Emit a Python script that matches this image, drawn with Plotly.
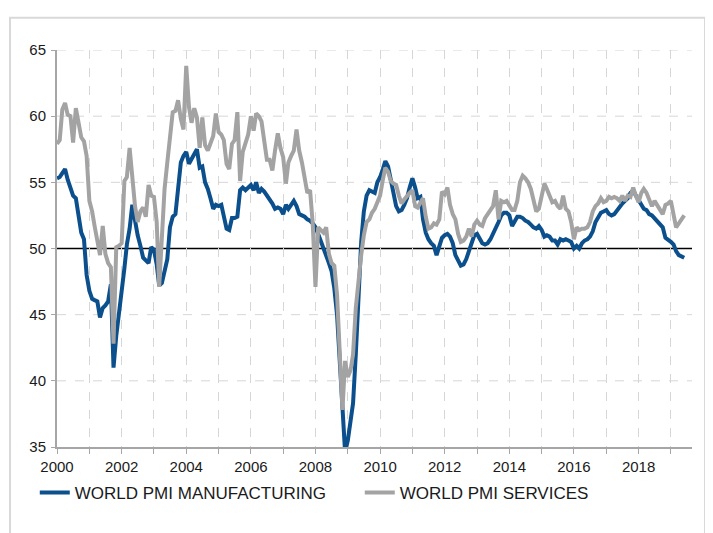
import plotly.graph_objects as go
import pandas as pd

start_month = "2000-01-01"
n_months = 234

manufacturing = [
    # 2000
    55.3, 55.4, 55.7, 56.0, 55.2, 54.5, 54.0, 53.8, 52.3, 51.2, 50.7, 48.0,
    # 2001
    46.8, 46.2, 46.1, 46.0, 44.8, 45.5, 45.7, 46.0, 47.3, 41.0, 43.4, 45.0,
    # 2002
    46.3, 48.5, 50.3, 51.5, 53.3, 52.0, 51.0, 50.2, 49.3, 49.1, 48.9, 50.1,
    # 2003
    49.9, 48.8, 47.2, 47.4, 48.2, 49.2, 51.6, 52.4, 52.6, 54.5, 56.5, 57.0,
    # 2004
    57.3, 56.4, 56.8, 57.2, 57.5, 56.1, 56.2, 55.0, 54.5, 53.8, 53.0, 53.3,
    # 2005
    53.2, 53.3, 52.5, 51.5, 51.4, 52.3, 52.3, 52.4, 54.4, 54.6, 54.4, 54.6,
    # 2006
    54.8, 54.4, 55.0, 54.2, 54.5, 54.3, 54.0, 53.8, 53.4, 53.0, 53.1, 53.0,
    # 2007
    52.6, 53.3, 53.0, 53.3, 53.6, 53.2, 52.6, 52.5, 52.4, 52.2, 52.1, 51.9,
    # 2008
    51.6, 51.1, 50.6, 50.1, 49.4, 48.9, 48.3, 47.0, 45.0, 41.3, 37.5, 34.6,
    # 2009
    35.5, 36.8, 38.3, 42.0, 46.5, 50.5, 52.8, 54.0, 54.4, 54.3, 54.2, 55.0,
    # 2010
    55.4, 56.0, 56.6, 56.2, 55.2, 54.0, 53.2, 52.8, 52.9, 53.3, 53.8, 54.6,
    # 2011
    55.3, 54.6, 53.8, 53.9, 52.2, 51.2, 50.7, 50.4, 50.2, 49.5, 50.2, 50.8,
    # 2012
    51.0, 51.1, 50.9, 50.4, 49.5, 49.1, 48.7, 48.8, 49.2, 49.8, 50.5, 51.0,
    # 2013
    51.1, 50.8, 50.4, 50.3, 50.4, 50.7, 51.1, 51.6, 52.0, 52.5, 52.7, 52.7,
    # 2014
    52.5, 51.7, 52.0, 52.4, 52.4, 52.3, 52.1, 52.0, 51.8, 51.6, 51.5, 51.7,
    # 2015
    51.4, 50.9, 51.0, 50.9, 50.6, 50.6, 50.3, 50.7, 50.6, 50.7, 50.6, 50.5,
    # 2016
    50.0, 50.2, 50.0, 50.4, 50.6, 50.7, 50.9, 51.3, 52.0, 52.4, 52.7, 52.8,
    # 2017
    52.9, 52.6, 52.5, 52.6, 52.9, 53.2, 53.4, 53.6, 53.8, 54.2, 54.4, 54.0,
    # 2018
    53.6, 53.2, 53.0, 52.9, 52.6, 52.5, 52.3, 52.1, 51.9, 51.6, 50.8, 50.6,
    # 2019
    50.5, 50.3, 49.8, 49.5, 49.4, 49.3,
]

services = [
    # 2000
    57.9, 58.2, 60.5, 61.0, 60.1, 60.0, 58.0, 60.6, 59.5, 58.4, 58.1, 57.0,
    # 2001
    53.6, 52.8, 51.7, 50.6, 49.5, 51.7, 49.6, 48.9, 48.6, 42.8, 50.1, 50.2,
    # 2002
    50.4, 55.1, 55.4, 57.6, 55.4, 53.2, 52.0, 52.8, 53.1, 52.4, 54.8, 54.0,
    # 2003
    53.9, 52.0, 47.1, 50.3, 54.5, 56.5, 58.4, 60.3, 60.4, 61.2, 59.8, 59.0,
    # 2004
    63.8, 60.7, 59.5, 60.6, 59.9, 57.6, 59.9, 57.8, 57.4, 58.0, 58.5, 60.2,
    # 2005
    58.8, 58.6, 58.2, 56.4, 56.0, 57.9, 58.2, 60.3, 55.1, 57.3, 57.9, 58.6,
    # 2006
    60.0, 58.9, 60.2, 60.0, 59.6, 57.8, 56.7, 56.7, 55.9, 57.4, 58.7, 57.6,
    # 2007
    56.9, 54.9, 56.5, 57.0, 57.4, 59.0, 57.4, 56.5, 55.5, 54.2, 54.4, 51.9,
    # 2008
    47.1, 51.6, 51.4, 51.2, 51.6, 49.6, 48.9, 48.7, 46.5, 42.0, 37.8, 41.5,
    # 2009
    40.3, 40.8, 42.0, 45.5, 47.6, 49.5, 51.0, 52.0, 52.2, 52.7, 53.0, 53.6,
    # 2010
    54.0, 55.2, 56.1, 55.8, 55.1, 54.9, 54.8, 54.0, 53.4, 53.7, 54.0, 54.2,
    # 2011
    54.4, 53.2, 53.1, 53.4, 53.8, 52.4, 51.5, 51.6, 51.9, 51.8, 52.2, 54.3,
    # 2012
    54.1, 54.6, 53.3, 52.6, 52.2, 51.1, 50.5, 50.6, 50.9, 51.5, 50.9, 51.8,
    # 2013
    52.1, 51.8, 51.7, 52.3, 52.6, 53.0, 53.2, 54.4, 52.2, 53.6, 53.5, 53.6,
    # 2014
    53.3, 52.9, 52.9, 53.6, 55.0, 55.5, 55.3, 55.0, 54.5, 53.6, 52.8, 53.0,
    # 2015
    53.8, 54.9, 54.5, 54.0, 53.5, 53.6, 53.2, 53.0, 54.0, 53.0, 52.8, 52.0,
    # 2016
    50.7, 51.6, 51.4, 51.5, 51.5, 51.6, 52.0, 52.8, 53.2, 53.4, 53.8, 53.5,
    # 2017
    53.6, 53.9, 53.8, 53.9, 53.8, 53.6, 54.0, 53.6, 54.0, 53.9, 54.6, 54.0,
    # 2018
    53.5, 54.2, 54.5, 54.2, 53.7, 53.2, 53.6, 53.3, 53.0, 52.6, 53.3, 53.4,
    # 2019
    53.6, 52.5, 51.6, 51.9, 52.2, 52.5,
]

series_names = ["WORLD PMI MANUFACTURING", "WORLD PMI SERVICES"]
series_colors = ["#0B4F8C", "#A3A3A3"]
y_ticks = [35, 40, 45, 50, 55, 60, 65]
x_tick_years = ["2000", "2002", "2004", "2006", "2008", "2010",
                "2012", "2014", "2016", "2018"]
threshold = 50

dates = pd.date_range(start_month, periods=n_months, freq="MS")

FONT = "Liberation Sans, Arial, sans-serif"

fig = go.Figure()
for name, vals, col in zip(series_names, [manufacturing, services], series_colors):
    fig.add_trace(go.Scatter(
        x=dates, y=vals, mode="lines", name=name,
        line=dict(color=col, width=4),
    ))

grid_col = "#D6D6D6"
axis_col = "#A6A6A6"

# horizontal dashed gridlines (except the 50 threshold, drawn solid black)
shapes = [
    dict(type="line", xref="paper", yref="y", x0=0, x1=1, y0=v, y1=v,
         line=dict(color=grid_col, width=1, dash="dash"), layer="below")
    for v in y_ticks if v not in (threshold, y_ticks[0])
]
shapes += [
    dict(type="line", xref="paper", yref="y", x0=0, x1=1,
         y0=threshold, y1=threshold, line=dict(color="black", width=1.5),
         layer="between"),
    dict(type="rect", xref="paper", yref="paper",
         x0=-0.074, x1=1.0205, y0=-0.25, y1=1.081,
         line=dict(color="#D9D9D9", width=2), layer="below"),
]

fig.update_layout(
    width=705, height=525,
    margin=dict(l=49, r=21, t=42, b=86),
    paper_bgcolor="white", plot_bgcolor="white",
    font=dict(family=FONT, size=15, color="#1a1a1a"),
    showlegend=True,
    legend=dict(
        orientation="h", x=-0.035, xanchor="left", y=-0.116, yanchor="middle",
        font=dict(size=17, color="#1a1a1a"),
        entrywidth=280, entrywidthmode="pixels",
        itemwidth=30, tracegroupgap=0,
        bgcolor="rgba(0,0,0,0)",
    ),
    xaxis=dict(
        type="date",
        range=["2000-01-01", "2019-08-28"],
        tickmode="array",
        tickvals=[f"{y}-01-01" for y in x_tick_years],
        ticktext=x_tick_years,
        ticks="outside", ticklen=5, tickcolor=axis_col, tickwidth=1,
        showgrid=True, gridcolor=grid_col, griddash="dash", gridwidth=1,
        minor=dict(dtick="M12", tick0="2001-01-01", ticks="outside", ticklen=5,
                   tickcolor=axis_col, showgrid=True, gridcolor=grid_col,
                   griddash="dash", gridwidth=1),
        showline=True, linecolor=axis_col, linewidth=2,
        zeroline=False,
        tickfont=dict(size=15, color="#1a1a1a"),
    ),
    yaxis=dict(
        range=[35, 65],
        tickvals=y_ticks,
        ticks="outside", ticklen=4, tickcolor=axis_col,
        showgrid=False,
        showline=True, linecolor=axis_col, linewidth=2,
        zeroline=False,
        tickfont=dict(size=15, color="#1a1a1a"),
        ticklabelstandoff=2,
    ),
    shapes=shapes,
)

fig.write_html("out.html")
